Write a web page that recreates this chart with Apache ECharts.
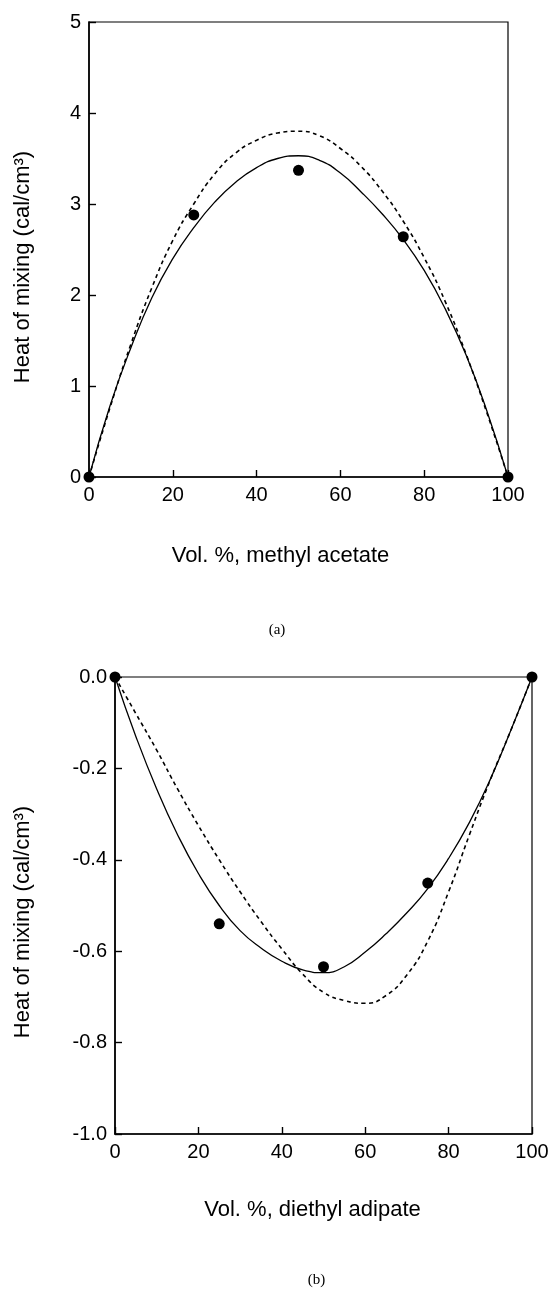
<!DOCTYPE html>
<html>
<head>
<meta charset="utf-8">
<script src="https://cdn.jsdelivr.net/npm/echarts@6/dist/echarts.min.js"></script>
<style>
  html, body { margin: 0; padding: 0; background: #fff; }
  #chart { width: 553px; height: 1289px; }
</style>
</head>
<body>
<div id="chart"></div>
<script>
const volPct = [0, 5, 10, 15, 20, 25, 30, 35, 40, 45, 50, 55, 60, 65, 70, 75, 80, 85, 90, 95, 100];

// (a) methyl acetate
const methylSolid  = [0, 0.78, 1.42, 1.97, 2.40, 2.74, 3.02, 3.24, 3.40, 3.50, 3.53, 3.48, 3.34, 3.13, 2.89, 2.61, 2.27, 1.85, 1.34, 0.72, 0];
const methylDashed = [0, 0.76, 1.46, 2.08, 2.60, 3.00, 3.33, 3.56, 3.70, 3.78, 3.80, 3.75, 3.61, 3.41, 3.14, 2.81, 2.41, 1.93, 1.35, 0.70, 0];

// (b) diethyl adipate
const adipateSolid  = [0, -0.13, -0.245, -0.345, -0.43, -0.50, -0.555, -0.593, -0.622, -0.641, -0.647, -0.634, -0.602, -0.562, -0.516, -0.463, -0.397, -0.318, -0.224, -0.115, 0];
const adipateDashed = [0, -0.08, -0.16, -0.245, -0.325, -0.40, -0.47, -0.535, -0.595, -0.65, -0.69, -0.708, -0.714, -0.697, -0.652, -0.578, -0.47, -0.345, -0.225, -0.115, 0];

// measured points
const pointX = [0, 25, 50, 75, 100];
const methylPts  = [0, 2.88, 3.37, 2.64, 0];
const adipatePts = [0, -0.54, -0.634, -0.451, 0];

const pair = (xs, ys) => xs.map((x, i) => [x, ys[i]]);

const SANS = '"Liberation Sans", Arial, sans-serif';
const SERIF = '"Liberation Serif", "Times New Roman", serif';

function xAx(gridIndex) {
  return {
    type: 'value', gridIndex: gridIndex, min: 0, max: 100, interval: 20,
    axisLine: { onZero: false, lineStyle: { color: '#000', width: 1.6 } },
    axisTick: { inside: true, length: 7, lineStyle: { color: '#000', width: 1.4 } },
    axisLabel: { color: '#000', fontSize: 20, fontFamily: SANS, margin: 8 },
    splitLine: { show: false }
  };
}

function yAx(gridIndex, min, max, interval, fmt) {
  return {
    type: 'value', gridIndex: gridIndex, min: min, max: max, interval: interval,
    axisLine: { show: true, onZero: false, lineStyle: { color: '#000', width: 1.6 } },
    axisTick: { show: true, inside: true, length: 7, lineStyle: { color: '#000', width: 1.4 } },
    axisLabel: { color: '#000', fontSize: 20, fontFamily: SANS, margin: 8, formatter: fmt },
    splitLine: { show: false }
  };
}

function curve(idx, ys, dashed) {
  return {
    type: 'line', xAxisIndex: idx, yAxisIndex: idx,
    data: pair(volPct, ys), smooth: 0.5, showSymbol: false, symbol: 'none',
    lineStyle: dashed
      ? { color: '#000', width: 1.6, type: [4, 3.5] }
      : { color: '#000', width: 1.3 },
    silent: true, animation: false
  };
}

function dots(idx, ys) {
  return {
    type: 'scatter', xAxisIndex: idx, yAxisIndex: idx,
    data: pair(pointX, ys), symbol: 'circle', symbolSize: 11,
    itemStyle: { color: '#000', opacity: 1 }, clip: false, z: 5, animation: false
  };
}

function txt(x, y, text, size, family, rot) {
  return {
    type: 'text', x: x, y: y, rotation: rot || 0,
    style: {
      text: text, fill: '#000', fontSize: size, fontFamily: family,
      textAlign: 'center', textVerticalAlign: 'middle',
      align: 'center', verticalAlign: 'middle'
    }
  };
}

const chart = echarts.init(document.getElementById('chart'));
chart.setOption({
  backgroundColor: '#fff',
  animation: false,
  grid: [
    { left: 89, top: 22, width: 419, height: 455, show: true, borderColor: '#000', borderWidth: 1.2, containLabel: false },
    { left: 115, top: 677, width: 417, height: 457, show: true, borderColor: '#000', borderWidth: 1.2, containLabel: false }
  ],
  xAxis: [xAx(0), xAx(1)],
  yAxis: [
    yAx(0, 0, 5, 1, v => String(v)),
    yAx(1, -1, 0, 0.2, v => (Math.abs(v) < 1e-9 ? '0.0' : v.toFixed(1)))
  ],
  series: [
    curve(0, methylSolid, false),
    curve(0, methylDashed, true),
    dots(0, methylPts),
    curve(1, adipateSolid, false),
    curve(1, adipateDashed, true),
    dots(1, adipatePts)
  ],
  graphic: [
    txt(23, 267, 'Heat of mixing (cal/cm³)', 22, SANS, Math.PI / 2),
    txt(280.5, 556, 'Vol. %, methyl acetate', 22, SANS),
    txt(277, 630, '(a)', 15, SERIF),
    txt(23, 922, 'Heat of mixing (cal/cm³)', 22, SANS, Math.PI / 2),
    txt(312.5, 1210, 'Vol. %, diethyl adipate', 22, SANS),
    txt(316.5, 1280, '(b)', 15, SERIF)
  ]
});
</script>
</body>
</html>
